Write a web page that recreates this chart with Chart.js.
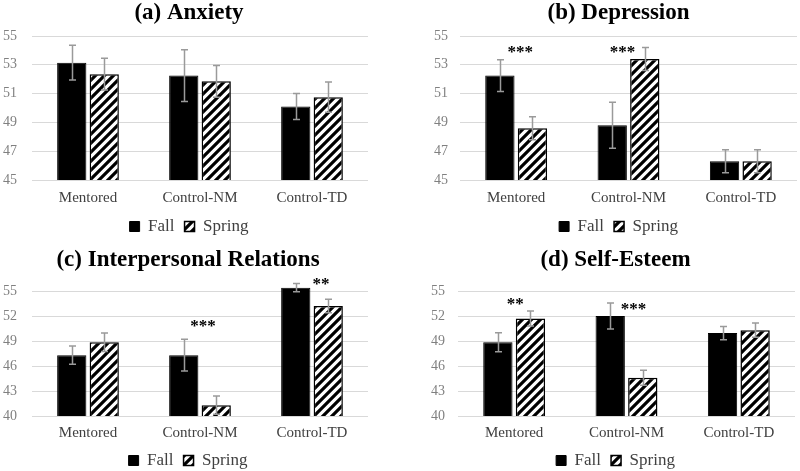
<!DOCTYPE html>
<html><head><meta charset="utf-8">
<script src="https://cdn.jsdelivr.net/npm/chart.js@4/dist/chart.umd.min.js"></script>
<style>
html,body{margin:0;padding:0;background:#fff;overflow:hidden;width:800px;height:471px}
#wrap{position:relative;width:800px;height:471px;overflow:hidden;background:#fff}
canvas{position:absolute}
</style></head><body><div id="wrap">
<canvas id="pa" width="400" height="245" style="left:0px;top:0px"></canvas>
<canvas id="pb" width="400" height="245" style="left:400px;top:0px"></canvas>
<canvas id="pc" width="400" height="244" style="left:0px;top:235px"></canvas>
<canvas id="pd" width="400" height="244" style="left:400px;top:235px"></canvas>
</div>
<script>
// ---- data ----
const groups = ['Mentored', 'Control-NM', 'Control-TD'];
const seriesNames = ['Fall', 'Spring'];

const anxietyFall = [53.15, 52.25, 50.1];
const anxietyFallErr = [1.2, 1.8, 0.9];
const anxietySpring = [52.35, 51.85, 50.75];
const anxietySpringErr = [1.1, 1.1, 1.05];
const anxietyStars = ['', '', ''];
const anxietyStarY = [null, null, null];

const depressionFall = [52.25, 48.8, 46.3];
const depressionFallErr = [1.1, 1.6, 0.8];
const depressionSpring = [48.6, 53.4, 46.3];
const depressionSpringErr = [0.8, 0.8, 0.8];
const depressionStars = ['***', '***', ''];
const depressionStarY = [54.1, 54.1, null];

const interFall = [47.3, 47.3, 55.4];
const interFallErr = [1.1, 1.9, 0.5];
const interSpring = [48.85, 41.3, 53.2];
const interSpringErr = [1.1, 1.1, 0.8];
const interStars = ['', '***', '**'];
const interStarY = [null, 51.2, 56.2];

const selfFall = [48.85, 52.0, 49.95];
const selfFallErr = [1.15, 1.55, 0.8];
const selfSpring = [51.7, 44.6, 50.3];
const selfSpringErr = [0.9, 0.9, 0.85];
const selfStars = ['**', '***', ''];
const selfStarY = [53.8, 53.25, null];

const ticksTop = {min: 45, max: 55, step: 2};
const ticksBottom = {min: 40, max: 55, step: 3};

// ---- rendering ----
const SERIF = "'Liberation Serif','Times New Roman',serif";

function makeHatch() {
  const s = 9, c = document.createElement('canvas');
  c.width = s; c.height = s;
  const g = c.getContext('2d');
  g.fillStyle = '#fff'; g.fillRect(0, 0, s, s);
  g.strokeStyle = '#000'; g.lineWidth = 3.2;
  g.beginPath();
  g.moveTo(-2, s + 2); g.lineTo(s + 2, -2);
  g.moveTo(-2, 2); g.lineTo(2, -2);
  g.moveTo(s - 2, s + 2); g.lineTo(s + 2, s - 2);
  g.stroke();
  return c;
}

const errPlugin = {
  id: 'errbars',
  afterDatasetsDraw(chart) {
    const ctx = chart.ctx, y = chart.scales.y;
    ctx.save();
    ctx.strokeStyle = '#9a9a9a';
    ctx.lineWidth = 1.5;
    chart.data.datasets.forEach((ds, i) => {
      const meta = chart.getDatasetMeta(i);
      meta.data.forEach((bar, j) => {
        const v = ds.data[j], e = ds.err[j];
        const yt = y.getPixelForValue(v + e), yb = y.getPixelForValue(v - e);
        const x = Math.round(bar.x) + 0.5;
        ctx.beginPath();
        ctx.moveTo(x, yt); ctx.lineTo(x, yb);
        ctx.moveTo(x - 3.5, yt); ctx.lineTo(x + 3.5, yt);
        ctx.moveTo(x - 3.5, yb); ctx.lineTo(x + 3.5, yb);
        ctx.stroke();
      });
    });
    ctx.restore();
  }
};

const starPlugin = {
  id: 'stars',
  afterDatasetsDraw(chart, args, opts) {
    const ctx = chart.ctx, y = chart.scales.y;
    const m0 = chart.getDatasetMeta(0), m1 = chart.getDatasetMeta(1);
    ctx.save();
    ctx.fillStyle = '#000';
    ctx.font = "bold 17px " + SERIF;
    ctx.textAlign = 'center';
    ctx.textBaseline = 'middle';
    opts.labels.forEach((t, j) => {
      if (!t) return;
      const x = (m0.data[j].x + m1.data[j].x) / 2 + (opts.dx[j] || 0);
      ctx.fillText(t, x, y.getPixelForValue(opts.ys[j]) + 4);
    });
    ctx.restore();
  }
};

// shift title & legend horizontally to match the original centring
const shiftPlugin = {
  id: 'shift',
  afterLayout(chart, args, opts) {
    const d = opts.dx || 0;
    [chart.legend, chart.titleBlock].forEach(b => {
      if (b) { b.left += d; b.right += d; }
    });
  }
};

const hatch = document.createElement('canvas').getContext('2d').createPattern(makeHatch(), 'repeat');

const panels = [
  {id: 'pa', title: '(a) Anxiety', fall: anxietyFall, fallErr: anxietyFallErr, spring: anxietySpring, springErr: anxietySpringErr,
   stars: anxietyStars, starY: anxietyStarY, starDx: [0, 0, 0], t: ticksTop, shift: 5, plotLeft: 32, plotRight: 368, yPad: 15, padTop: 2, titleGap: 11, xPad: 9, xH: 28},
  {id: 'pb', title: '(b) Depression', fall: depressionFall, fallErr: depressionFallErr, spring: depressionSpring, springErr: depressionSpringErr,
   stars: depressionStars, starY: depressionStarY, starDx: [4, -6, 0], t: ticksTop, shift: 20, plotLeft: 60, plotRight: 397, yPad: 12, padTop: 2, titleGap: 11, xPad: 9, xH: 28},
  {id: 'pc', title: '(c) Interpersonal Relations', fall: interFall, fallErr: interFallErr, spring: interSpring, springErr: interSpringErr,
   stars: interStars, starY: interStarY, starDx: [0, 3, 9], t: ticksBottom, shift: 4, plotLeft: 32, plotRight: 368, yPad: 15, padTop: 13.5, titleGap: 19.5, xPad: 8, xH: 26},
  {id: 'pd', title: '(d) Self-Esteem', fall: selfFall, fallErr: selfFallErr, spring: selfSpring, springErr: selfSpringErr,
   stars: selfStars, starY: selfStarY, starDx: [1, 7, 0], t: ticksBottom, shift: 18, plotLeft: 58, plotRight: 395, yPad: 13, padTop: 13.5, titleGap: 19.5, xPad: 8, xH: 26}
];

panels.forEach(p => {
  const canvas = document.getElementById(p.id);
  const clip = {left: 5, top: false, right: 5, bottom: 0};
  new Chart(canvas, {
    type: 'bar',
    data: {
      labels: groups,
      datasets: [
        {label: seriesNames[0], data: p.fall, err: p.fallErr, backgroundColor: '#000', borderColor: '#000', borderWidth: 1,
         categoryPercentage: 0.58, barPercentage: 0.9, clip: clip},
        {label: seriesNames[1], data: p.spring, err: p.springErr, backgroundColor: hatch, borderColor: '#000', borderWidth: 1.5,
         categoryPercentage: 0.58, barPercentage: 0.9, clip: clip}
      ]
    },
    options: {
      responsive: false,
      animation: false,
      devicePixelRatio: 1,
      layout: {padding: {left: 0, right: 400 - p.plotRight, top: p.padTop, bottom: 0}},
      plugins: {
        title: {display: true, text: p.title, color: '#000',
          font: {family: SERIF, size: 23, weight: 'bold', lineHeight: 1},
          padding: {top: 0, bottom: p.titleGap}},
        legend: {position: 'bottom',
          labels: {boxWidth: 10, boxHeight: 10, padding: 10, color: '#404040', font: {family: SERIF, size: 17}}},
        tooltip: {enabled: false},
        stars: {labels: p.stars, ys: p.starY, dx: p.starDx},
        shift: {dx: p.shift}
      },
      scales: {
        x: {
          grid: {display: false, drawTicks: false},
          border: {display: false},
          ticks: {padding: p.xPad, color: '#404040', font: {family: SERIF, size: 15}, maxRotation: 0, autoSkip: false},
          afterFit: s => { s.height = p.xH; }
        },
        y: {
          min: p.t.min, max: p.t.max,
          ticks: {stepSize: p.t.step, padding: p.yPad, color: '#808080', font: {family: SERIF, size: 14}},
          grid: {color: '#d9d9d9', lineWidth: 1, drawTicks: false},
          border: {display: false},
          afterFit: s => { s.width = p.plotLeft; }
        }
      }
    },
    plugins: [errPlugin, starPlugin, shiftPlugin]
  });
});
</script>
</body></html>
